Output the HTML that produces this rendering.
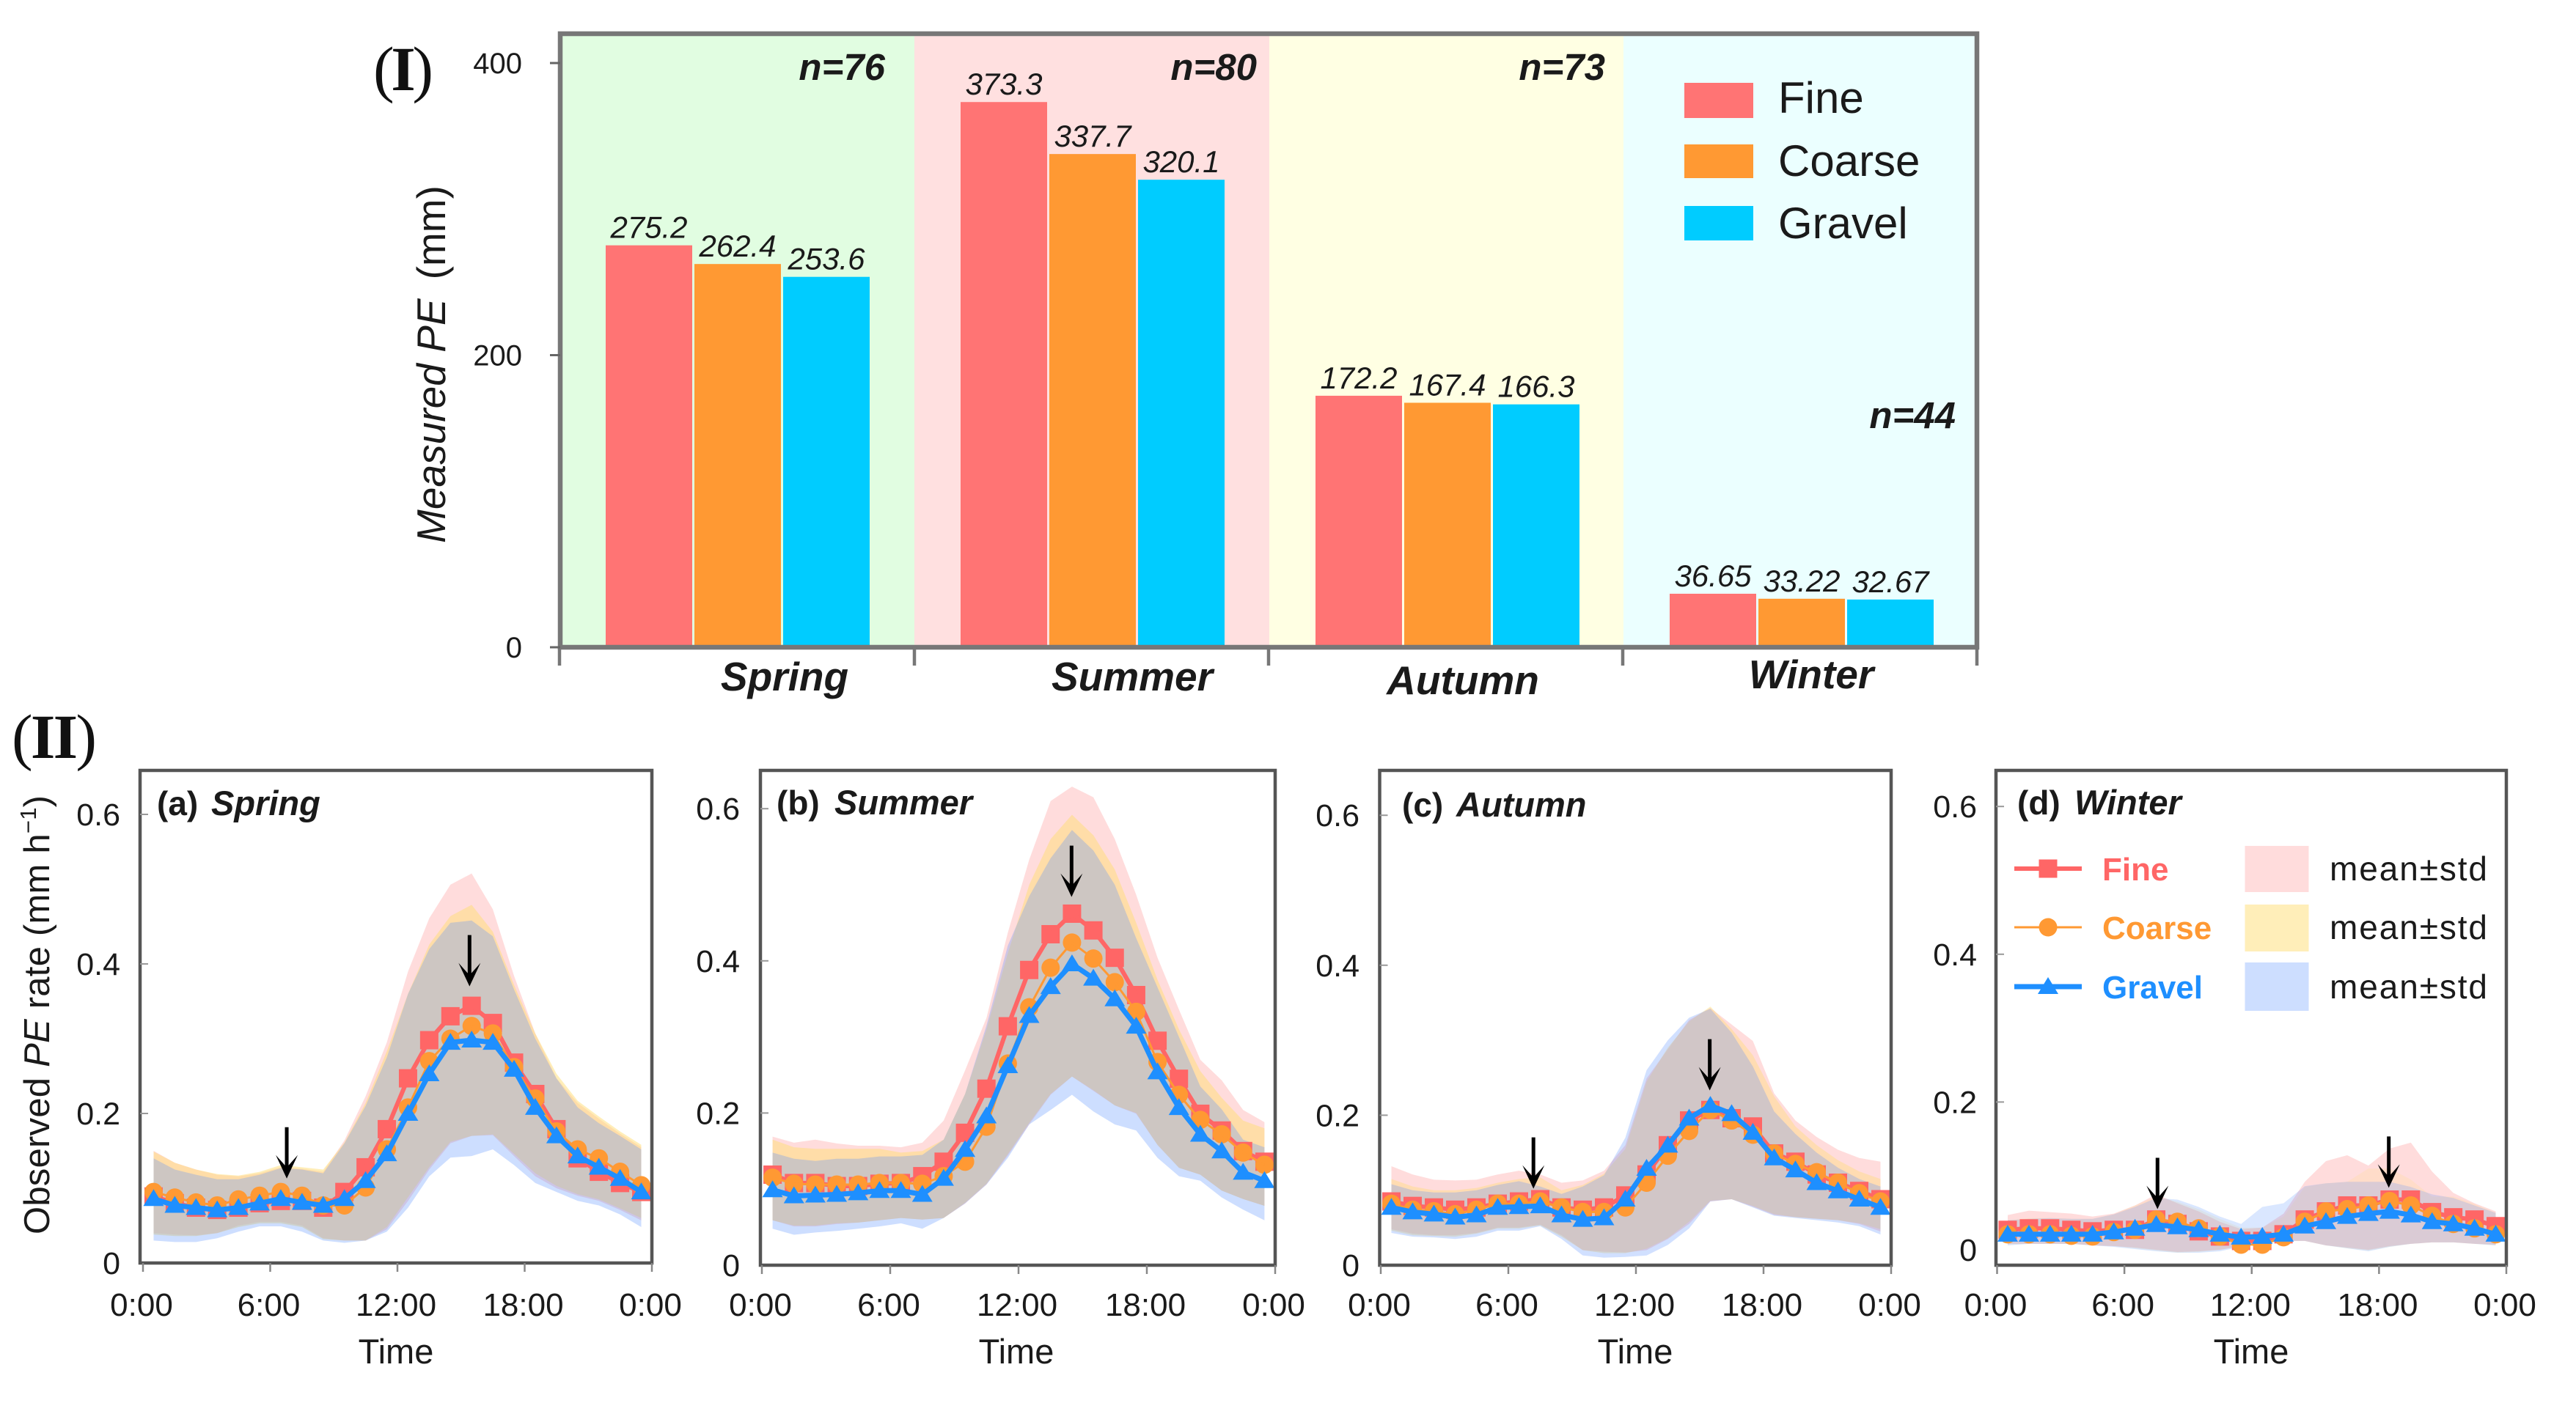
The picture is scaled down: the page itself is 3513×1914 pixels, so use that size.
<!DOCTYPE html>
<html lang="en">
<head>
<meta charset="utf-8">
<title>Measured PE by season and diurnal observed PE rate</title>
<style>
html,body{margin:0;padding:0;background:#fff;}
#figure{display:block;width:3513px;height:1914px;}
text{font-family:"Liberation Sans",sans-serif;fill:#1a1a1a;}
</style>
</head>
<body>
<svg id="figure" xmlns="http://www.w3.org/2000/svg" width="3513" height="1914" viewBox="0 0 3513 1914"></svg>
<script>
// ---------- Part I: seasonal totals ----------
const seasons = ["Spring", "Summer", "Autumn", "Winter"];
const soils = ["Fine", "Coarse", "Gravel"];
const fineTotals = [275.2, 373.3, 172.2, 36.65];
const coarseTotals = [262.4, 337.7, 167.4, 33.22];
const gravelTotals = [253.6, 320.1, 166.3, 32.67];
const sampleCounts = [76, 80, 73, 44];
const barTicks = [0, 200, 400];

// ---------- Part II: diurnal values at half-hour centres ----------
const hours = [0.5,1.5,2.5,3.5,4.5,5.5,6.5,7.5,8.5,9.5,10.5,11.5,12.5,13.5,14.5,15.5,16.5,17.5,18.5,19.5,20.5,21.5,22.5,23.5];
const rateTicks = [0, 0.2, 0.4, 0.6];
const timeTicks = [0, 6, 12, 18, 24];
const timeLabels = ["0:00", "6:00", "12:00", "18:00", "0:00"];

const springFineMean = [.089,.08,.074,.071,.074,.08,.083,.083,.074,.095,.128,.179,.247,.298,.33,.344,.321,.268,.226,.179,.14,.122,.107,.095];
const springCoarseMean = [.095,.0875,.081,.077,.085,.09,.095,.09,.077,.077,.101,.152,.208,.27,.3,.317,.307,.262,.22,.176,.152,.14,.122,.104];
const springGravelMean = [.086,.077,.074,.071,.074,.08,.086,.081,.077,.086,.11,.146,.2,.253,.295,.298,.295,.259,.208,.17,.143,.128,.113,.095];
const springFineUpper = [.15,.134,.125,.118,.116,.12,.128,.126,.122,.164,.223,.295,.39,.461,.506,.521,.473,.384,.307,.247,.214,.193,.173,.155];
const springCoarseUpper = [.149,.134,.125,.119,.117,.122,.131,.128,.125,.161,.214,.283,.36,.426,.464,.479,.443,.372,.307,.253,.217,.196,.176,.158];
const springGravelUpper = [.14,.125,.118,.112,.112,.118,.127,.125,.12,.16,.21,.275,.36,.42,.455,.458,.437,.366,.3,.247,.208,.187,.17,.152];
const springFineLower = [.04,.038,.037,.04,.05,.055,.055,.05,.033,.03,.03,.045,.083,.125,.16,.17,.171,.143,.116,.1,.09,.083,.071,.057];
const springCoarseLower = [.038,.036,.036,.04,.048,.053,.053,.048,.032,.03,.03,.048,.088,.128,.162,.17,.172,.146,.12,.103,.092,.085,.073,.06];
const springGravelLower = [.03,.028,.028,.033,.042,.049,.049,.042,.03,.027,.03,.042,.074,.116,.141,.143,.152,.131,.107,.095,.083,.077,.065,.048];

const summerFineMean = [.119,.108,.108,.104,.104,.107,.108,.117,.136,.174,.232,.314,.388,.435,.462,.44,.404,.355,.295,.245,.199,.177,.15,.136];
const summerCoarseMean = [.115,.107,.106,.106,.106,.108,.108,.107,.117,.136,.182,.265,.339,.391,.424,.403,.372,.333,.267,.224,.191,.172,.148,.132];
const summerGravelMean = [.099,.091,.092,.093,.095,.098,.098,.093,.114,.152,.196,.262,.328,.366,.396,.377,.35,.314,.254,.207,.172,.15,.122,.111];
const summerFineUpper = [.169,.161,.165,.16,.157,.157,.155,.161,.19,.256,.325,.437,.533,.61,.629,.615,.56,.487,.404,.336,.27,.243,.204,.188];
const summerCoarseUpper = [.165,.155,.153,.153,.153,.153,.148,.15,.165,.225,.31,.41,.5,.56,.592,.565,.52,.45,.375,.31,.255,.22,.19,.18];
const summerGravelUpper = [.148,.14,.137,.14,.14,.143,.143,.145,.165,.225,.315,.42,.485,.535,.572,.545,.5,.43,.365,.3,.235,.205,.165,.155];
const summerFineLower = [.059,.051,.051,.054,.056,.059,.062,.06,.062,.081,.106,.144,.185,.224,.248,.229,.21,.199,.158,.128,.119,.098,.087,.078];
const summerCoarseLower = [.059,.052,.052,.055,.056,.059,.062,.06,.062,.082,.107,.146,.187,.225,.248,.23,.21,.2,.158,.128,.119,.098,.087,.078];
const summerGravelLower = [.048,.04,.043,.045,.048,.051,.055,.048,.062,.081,.106,.141,.185,.204,.224,.202,.185,.177,.141,.117,.111,.089,.073,.059];

const autumnFineMean = [.085,.079,.077,.074,.077,.082,.085,.088,.077,.074,.077,.093,.121,.16,.193,.207,.196,.185,.149,.138,.121,.11,.099,.088];
const autumnCoarseMean = [.082,.074,.072,.068,.074,.082,.082,.085,.077,.071,.071,.077,.11,.146,.179,.207,.193,.174,.149,.135,.124,.11,.096,.085];
const autumnGravelMean = [.077,.071,.068,.064,.067,.077,.078,.079,.067,.061,.063,.088,.129,.16,.196,.213,.202,.177,.143,.127,.11,.099,.088,.077];
const autumnFineUpper = [.132,.121,.114,.113,.114,.121,.126,.121,.11,.113,.126,.16,.249,.288,.327,.343,.321,.299,.229,.193,.171,.154,.143,.138];
const autumnCoarseUpper = [.115,.105,.1,.1,.103,.11,.115,.117,.1,.107,.122,.155,.245,.29,.325,.345,.315,.28,.225,.185,.16,.14,.125,.115];
const autumnGravelUpper = [.108,.1,.097,.097,.1,.107,.112,.105,.095,.105,.12,.17,.26,.3,.33,.342,.31,.265,.205,.175,.15,.13,.115,.105];
const autumnFineLower = [.048,.042,.04,.04,.043,.05,.05,.054,.04,.02,.018,.017,.02,.035,.055,.085,.088,.078,.067,.064,.062,.06,.055,.045];
const autumnCoarseLower = [.046,.04,.039,.038,.042,.049,.049,.053,.038,.02,.016,.016,.022,.036,.058,.086,.088,.079,.068,.064,.062,.06,.056,.048];
const autumnGravelLower = [.043,.038,.037,.035,.038,.046,.046,.052,.035,.013,.01,.011,.013,.027,.049,.085,.088,.077,.066,.063,.06,.057,.052,.041];

const winterFineMean = [.027,.029,.029,.027,.025,.027,.027,.041,.035,.025,.018,.012,.012,.021,.041,.052,.06,.06,.068,.068,.051,.044,.041,.032];
const winterCoarseMean = [.021,.021,.021,.019,.018,.024,.027,.041,.038,.029,.018,.007,.007,.017,.038,.052,.055,.06,.066,.06,.046,.035,.029,.021];
const winterGravelMean = [.021,.021,.021,.021,.021,.024,.029,.034,.031,.027,.021,.017,.018,.021,.032,.038,.045,.049,.052,.047,.038,.035,.029,.021];
const winterFineUpper = [.047,.053,.051,.049,.045,.049,.06,.075,.063,.052,.038,.028,.03,.049,.092,.12,.128,.114,.137,.145,.106,.077,.063,.052];
const winterCoarseUpper = [.04,.043,.043,.042,.042,.048,.06,.072,.065,.055,.042,.03,.03,.045,.085,.09,.092,.11,.11,.095,.072,.072,.062,.05];
const winterGravelUpper = [.04,.042,.043,.042,.042,.048,.058,.07,.068,.058,.045,.035,.058,.063,.086,.09,.092,.092,.092,.085,.075,.07,.06,.05];
const winterFineLower = [.008,.008,.008,.008,.006,.005,.003,0,-.003,-.002,0,.005,.01,.012,.012,.006,.003,0,.005,.008,.01,.01,.008,.007];
const winterCoarseLower = [.007,.008,.008,.008,.006,.005,.002,-.001,-.004,-.003,0,.005,.01,.012,.012,.006,.002,-.001,.004,.008,.01,.01,.008,.006];
const winterGravelLower = [.006,.008,.008,.008,.006,.004,.001,-.002,-.004,-.004,-.002,.004,.01,.012,.012,.006,.002,-.002,.004,.008,.01,.01,.008,.006];

const springArrowHours = [6.78, 15.4];
const springArrowTips = [.113, .37];
const summerArrowHours = [14.48];
const summerArrowTips = [.484];
const autumnArrowHours = [7.18, 15.47];
const autumnArrowTips = [.102, .233];
const winterArrowHours = [7.56, 18.46];
const winterArrowTips = [.055, .084];

// ---------- drawing ----------
const NS = "http://www.w3.org/2000/svg";
const root = document.getElementById("figure");

function make(tag, parent, attrs, content) {
  const node = document.createElementNS(NS, tag);
  for (const k in attrs) node.setAttribute(k, attrs[k]);
  if (content !== undefined) node.textContent = content;
  parent.appendChild(node);
  return node;
}
function slug(s) { return String(s).toLowerCase().replace(/[^a-z0-9]+/g, "-"); }

const barColors = ["#FF7474", "#FF9933", "#00CCFF"];
const seasonTints = ["#E1FDE1", "#FFE0E0", "#FFFFE3", "#EBFFFF"];
const seasonEdges = [766, 1247, 1731, 2214, 2693];
const seasonTickEdges = [763, 1247, 1730, 2213, 2696];
const barTotals = [fineTotals, coarseTotals, gravelTotals];
const seasonLabelCentres = [1070, 1544, 1995, 2470];
const seasonLabelBaselines = [942, 942, 947, 939];
const nRightEdges = [1207, 1714, 2189, 2667];
const nBaselines = [109, 109, 109, 584];

function barY(v) { return 883 - v * 1.9925; }

const partOne = make("g", root, {});



seasons.forEach(function (season, s) {
  const band = make("rect", partOne, {x: seasonEdges[s], y: 46, width: seasonEdges[s + 1] - seasonEdges[s], height: 837, fill: seasonTints[s]});
  
  
});

seasons.forEach(function (season, s) {
  soils.forEach(function (soil, k) {
    const value = barTotals[k][s];
    const bw = 118, gap = 3;
    const bx = seasonEdges[s] + (s === 0 ? 60 : 63) + k * (bw + gap);
    const bar = make("rect", partOne, {x: bx, y: barY(value), width: bw, height: barY(0) - barY(value), fill: barColors[k]});
    
    
    const lab = make("text", partOne, {x: bx + bw / 2, y: barY(value) - 10, "text-anchor": "middle", "font-size": 42, "font-style": "italic"}, String(value));
    
    
  });
  const n = make("text", partOne, {x: nRightEdges[s], y: nBaselines[s], "text-anchor": "end", "font-size": 51, "font-weight": "bold", "font-style": "italic"}, "n=" + sampleCounts[s]);
  
  
  const sl = make("text", partOne, {x: seasonLabelCentres[s], y: seasonLabelBaselines[s], "text-anchor": "middle", "font-size": 55, "font-weight": "bold", "font-style": "italic"}, season);
  
  
});

const topFrame = make("path", partOne, {d: "M764 883V46H2696V883Z", fill: "none", stroke: "#777", "stroke-width": 6.5});



seasonTickEdges.forEach(function (x, i) {
  const t = make("line", partOne, {x1: x, x2: x, y1: 883, y2: 908, stroke: "#777", "stroke-width": 4.5});
  
  
});

barTicks.forEach(function (v) {
  const t = make("line", partOne, {x1: 750, x2: 764, y1: barY(v), y2: barY(v), stroke: "#666", "stroke-width": 3});
  
  
  const l = make("text", partOne, {x: 712, y: barY(v) + 14, "text-anchor": "end", "font-size": 40}, String(v));
  
  
});

const barTitle = make("text", partOne, {transform: "translate(607,741) rotate(-90)", "font-size": 55, "font-style": "italic", textLength: 488, lengthAdjust: "spacing"});


make("tspan", barTitle, {}, "Measured PE");
make("tspan", barTitle, {"font-style": "normal", dx: 26}, "(mm)");

const swatchTops = [113, 197, 281];
const swatchHeights = [48, 46, 47];
const swatchBaselines = [154, 240, 325];
soils.forEach(function (soil, k) {
  const sw = make("rect", partOne, {x: 2297, y: swatchTops[k], width: 94, height: swatchHeights[k], fill: barColors[k]});
  
  
  const tx = make("text", partOne, {x: 2425, y: swatchBaselines[k], "font-size": 60}, soil);
  
  
});

const romanOne = make("text", root, {x: 509, y: 123, "font-size": 86, textLength: 82, lengthAdjust: "spacing", style: 'font-family:"Liberation Serif",serif;fill:#111'});


make("tspan", romanOne, {}, "(");
make("tspan", romanOne, {"font-weight": "bold"}, "I");
make("tspan", romanOne, {}, ")");
const romanTwo = make("text", root, {x: 16, y: 1034, "font-size": 86, textLength: 116, lengthAdjust: "spacing", style: 'font-family:"Liberation Serif",serif;fill:#111'});


make("tspan", romanTwo, {}, "(");
make("tspan", romanTwo, {"font-weight": "bold"}, "II");
make("tspan", romanTwo, {}, ")");

// ---------- Part II panels ----------
const lineColors = ["#FF6666", "#FF9933", "#1E8FFF"];
const lineWidths = [6, 3, 7];
const bandFills = ["#FFB9B9", "#FFDD73", "#5891FF"];

const panels = [
  {tag: "(a)", season: "Spring", left: 191, right: 889, x0: 195, x24: 889, zero: 1723, perUnit: 1020, top: 1051, bottom: 1723, bandAlpha: [.5, .5, .3],
   means: [springFineMean, springCoarseMean, springGravelMean], uppers: [springFineUpper, springCoarseUpper, springGravelUpper], lowers: [springFineLower, springCoarseLower, springGravelLower],
   arrowHours: springArrowHours, arrowTips: springArrowTips, labelRight: 164, tagX: 214, nameX: 288, titleY: 1112, timeX: 540},
  {tag: "(b)", season: "Summer", left: 1037, right: 1739, x0: 1039, x24: 1739, zero: 1726, perUnit: 1038, top: 1051, bottom: 1726, bandAlpha: [.5, .5, .3],
   means: [summerFineMean, summerCoarseMean, summerGravelMean], uppers: [summerFineUpper, summerCoarseUpper, summerGravelUpper], lowers: [summerFineLower, summerCoarseLower, summerGravelLower],
   arrowHours: summerArrowHours, arrowTips: summerArrowTips, labelRight: 1009, tagX: 1059, nameX: 1138, titleY: 1111, timeX: 1386},
  {tag: "(c)", season: "Autumn", left: 1881.5, right: 2579, x0: 1883, x24: 2579, zero: 1726, perUnit: 1023, top: 1051, bottom: 1726, bandAlpha: [.5, .4, .28],
   means: [autumnFineMean, autumnCoarseMean, autumnGravelMean], uppers: [autumnFineUpper, autumnCoarseUpper, autumnGravelUpper], lowers: [autumnFineLower, autumnCoarseLower, autumnGravelLower],
   arrowHours: autumnArrowHours, arrowTips: autumnArrowTips, labelRight: 1854, tagX: 1912, nameX: 1986, titleY: 1114, timeX: 2230},
  {tag: "(d)", season: "Winter", left: 2722, right: 3418, x0: 2723.5, x24: 3418, zero: 1705, perUnit: 1008, top: 1051, bottom: 1726, bandAlpha: [.5, .18, .22],
   means: [winterFineMean, winterCoarseMean, winterGravelMean], uppers: [winterFineUpper, winterCoarseUpper, winterGravelUpper], lowers: [winterFineLower, winterCoarseLower, winterGravelLower],
   arrowHours: winterArrowHours, arrowTips: winterArrowTips, labelRight: 2696, tagX: 2751, nameX: 2829, titleY: 1111, timeX: 3070}
];

function drawMarker(parent, kind, cx, cy, color) {
  if (kind === 0) return make("rect", parent, {x: cx - 12.5, y: cy - 12.5, width: 25, height: 25, fill: color});
  if (kind === 1) return make("circle", parent, {cx: cx, cy: cy, r: 12.5, fill: color});
  return make("polygon", parent, {points: (cx - 14) + "," + (cy + 10) + " " + (cx + 14) + "," + (cy + 10) + " " + cx + "," + (cy - 13), fill: color});
}

panels.forEach(function (p) {
  const name = slug(p.season);
  const xAt = function (h) { return p.x0 + h * (p.x24 - p.x0) / 24; };
  const yAt = function (v) { return p.zero - v * p.perUnit; };

  const g = make("g", root, {});
  
  

  soils.forEach(function (soil, k) {
    const upper = p.uppers[k], lower = p.lowers[k];
    let d = "";
    hours.forEach(function (h, i) { d += (i ? "L" : "M") + xAt(h).toFixed(1) + " " + yAt(upper[i]).toFixed(1); });
    for (let i = hours.length - 1; i >= 0; i--) d += "L" + xAt(hours[i]).toFixed(1) + " " + yAt(lower[i]).toFixed(1);
    const area = make("path", g, {d: d + "Z", fill: bandFills[k], "fill-opacity": p.bandAlpha[k]});
    
    
  });

  soils.forEach(function (soil, k) {
    const pts = hours.map(function (h, i) { return xAt(h).toFixed(1) + "," + yAt(p.means[k][i]).toFixed(1); }).join(" ");
    const series = make("g", g, {});
    
    
    hours.forEach(function (h, i) {
      const m = drawMarker(series, k, xAt(h), yAt(p.means[k][i]), lineColors[k]);
      
      
    });
    const line = make("polyline", series, {points: pts, fill: "none", stroke: lineColors[k], "stroke-width": lineWidths[k], "stroke-linejoin": "round"});
    
    
  });

  p.arrowHours.forEach(function (h, i) {
    const ax = xAt(h), tip = yAt(p.arrowTips[i]);
    const arrow = make("path", g, {d: "M" + (ax - 2.5) + " " + (tip - 70) + "h5V" + (tip - 18) + "L" + (ax + 15) + " " + (tip - 32) + "L" + ax + " " + tip + "L" + (ax - 15) + " " + (tip - 32) + "L" + (ax - 2.5) + " " + (tip - 18) + "Z", fill: "#000"});
    
    
  });

  const frame = make("rect", g, {x: p.left, y: p.top, width: p.right - p.left, height: p.bottom - p.top, fill: "none", stroke: "#555", "stroke-width": 4.5});
  
  

  rateTicks.forEach(function (v) {
    if (v > 0) {
      const t = make("line", g, {x1: p.left, x2: p.left + 11, y1: yAt(v), y2: yAt(v), stroke: "#999", "stroke-width": 2});
      
      
    }
    const l = make("text", g, {x: p.labelRight, y: yAt(v) + 15, "text-anchor": "end", "font-size": 43}, String(v));
    
    
  });

  timeTicks.forEach(function (h, i) {
    const t = make("line", g, {x1: xAt(h), x2: xAt(h), y1: p.bottom, y2: p.bottom + 12, stroke: "#888", "stroke-width": 2.5});
    
    
    const l = make("text", g, {x: xAt(h) - 2, y: 1795, "text-anchor": "middle", "font-size": 44}, timeLabels[i]);
    
    
  });

  const xt = make("text", g, {x: p.timeX, y: 1860, "text-anchor": "middle", "font-size": 47}, "Time");
  
  

  const tg = make("text", g, {x: p.tagX, y: p.titleY, "font-size": 46, "font-weight": "bold"}, p.tag);
  
  
  const nm = make("text", g, {x: p.nameX, y: p.titleY, "font-size": 47, "font-weight": "bold", "font-style": "italic"}, p.season);
  
  
});

const rateTitle = make("text", root, {transform: "translate(67,1684) rotate(-90)", "font-size": 49, textLength: 599, lengthAdjust: "spacing"});


make("tspan", rateTitle, {}, "Observed ");
make("tspan", rateTitle, {"font-style": "italic"}, "PE");
make("tspan", rateTitle, {}, " rate (mm h");
make("tspan", rateTitle, {"font-size": 31, dy: -18}, "\u22121");
make("tspan", rateTitle, {dy: 18}, ")");

// ---------- Panel (d) legend ----------
const legendLineYs = [1185, 1265, 1346];
const legendTextYs = [1201, 1281, 1362];
const legendBandTops = [1154, 1234, 1313];
const legendBandHeights = [63, 64, 66];
const legendBandFills = ["#FFDCDC", "#FFEEB9", "#CDDEFF"];
const legendMeanTexts = ["mean\u00B1std", "mean\u00B1std", "mean\u00B1std"];
const legend = make("g", root, {});


soils.forEach(function (soil, k) {
  const ll = make("line", legend, {x1: 2747, x2: 2839, y1: legendLineYs[k], y2: legendLineYs[k], stroke: lineColors[k], "stroke-width": lineWidths[k]});
  
  
  const mk = drawMarker(legend, k, 2793, legendLineYs[k], lineColors[k]);
  
  
  const tx = make("text", legend, {x: 2867, y: legendTextYs[k], "font-size": 44, "font-weight": "bold", style: "fill:" + lineColors[k]}, soil);
  
  
  const sw = make("rect", legend, {x: 3061.5, y: legendBandTops[k], width: 87, height: legendBandHeights[k], fill: legendBandFills[k]});
  
  
  const mt = make("text", legend, {x: 3177, y: legendTextYs[k], "font-size": 46, textLength: 215, lengthAdjust: "spacing"}, legendMeanTexts[k]);
  
  
});
</script>
</body>
</html>
